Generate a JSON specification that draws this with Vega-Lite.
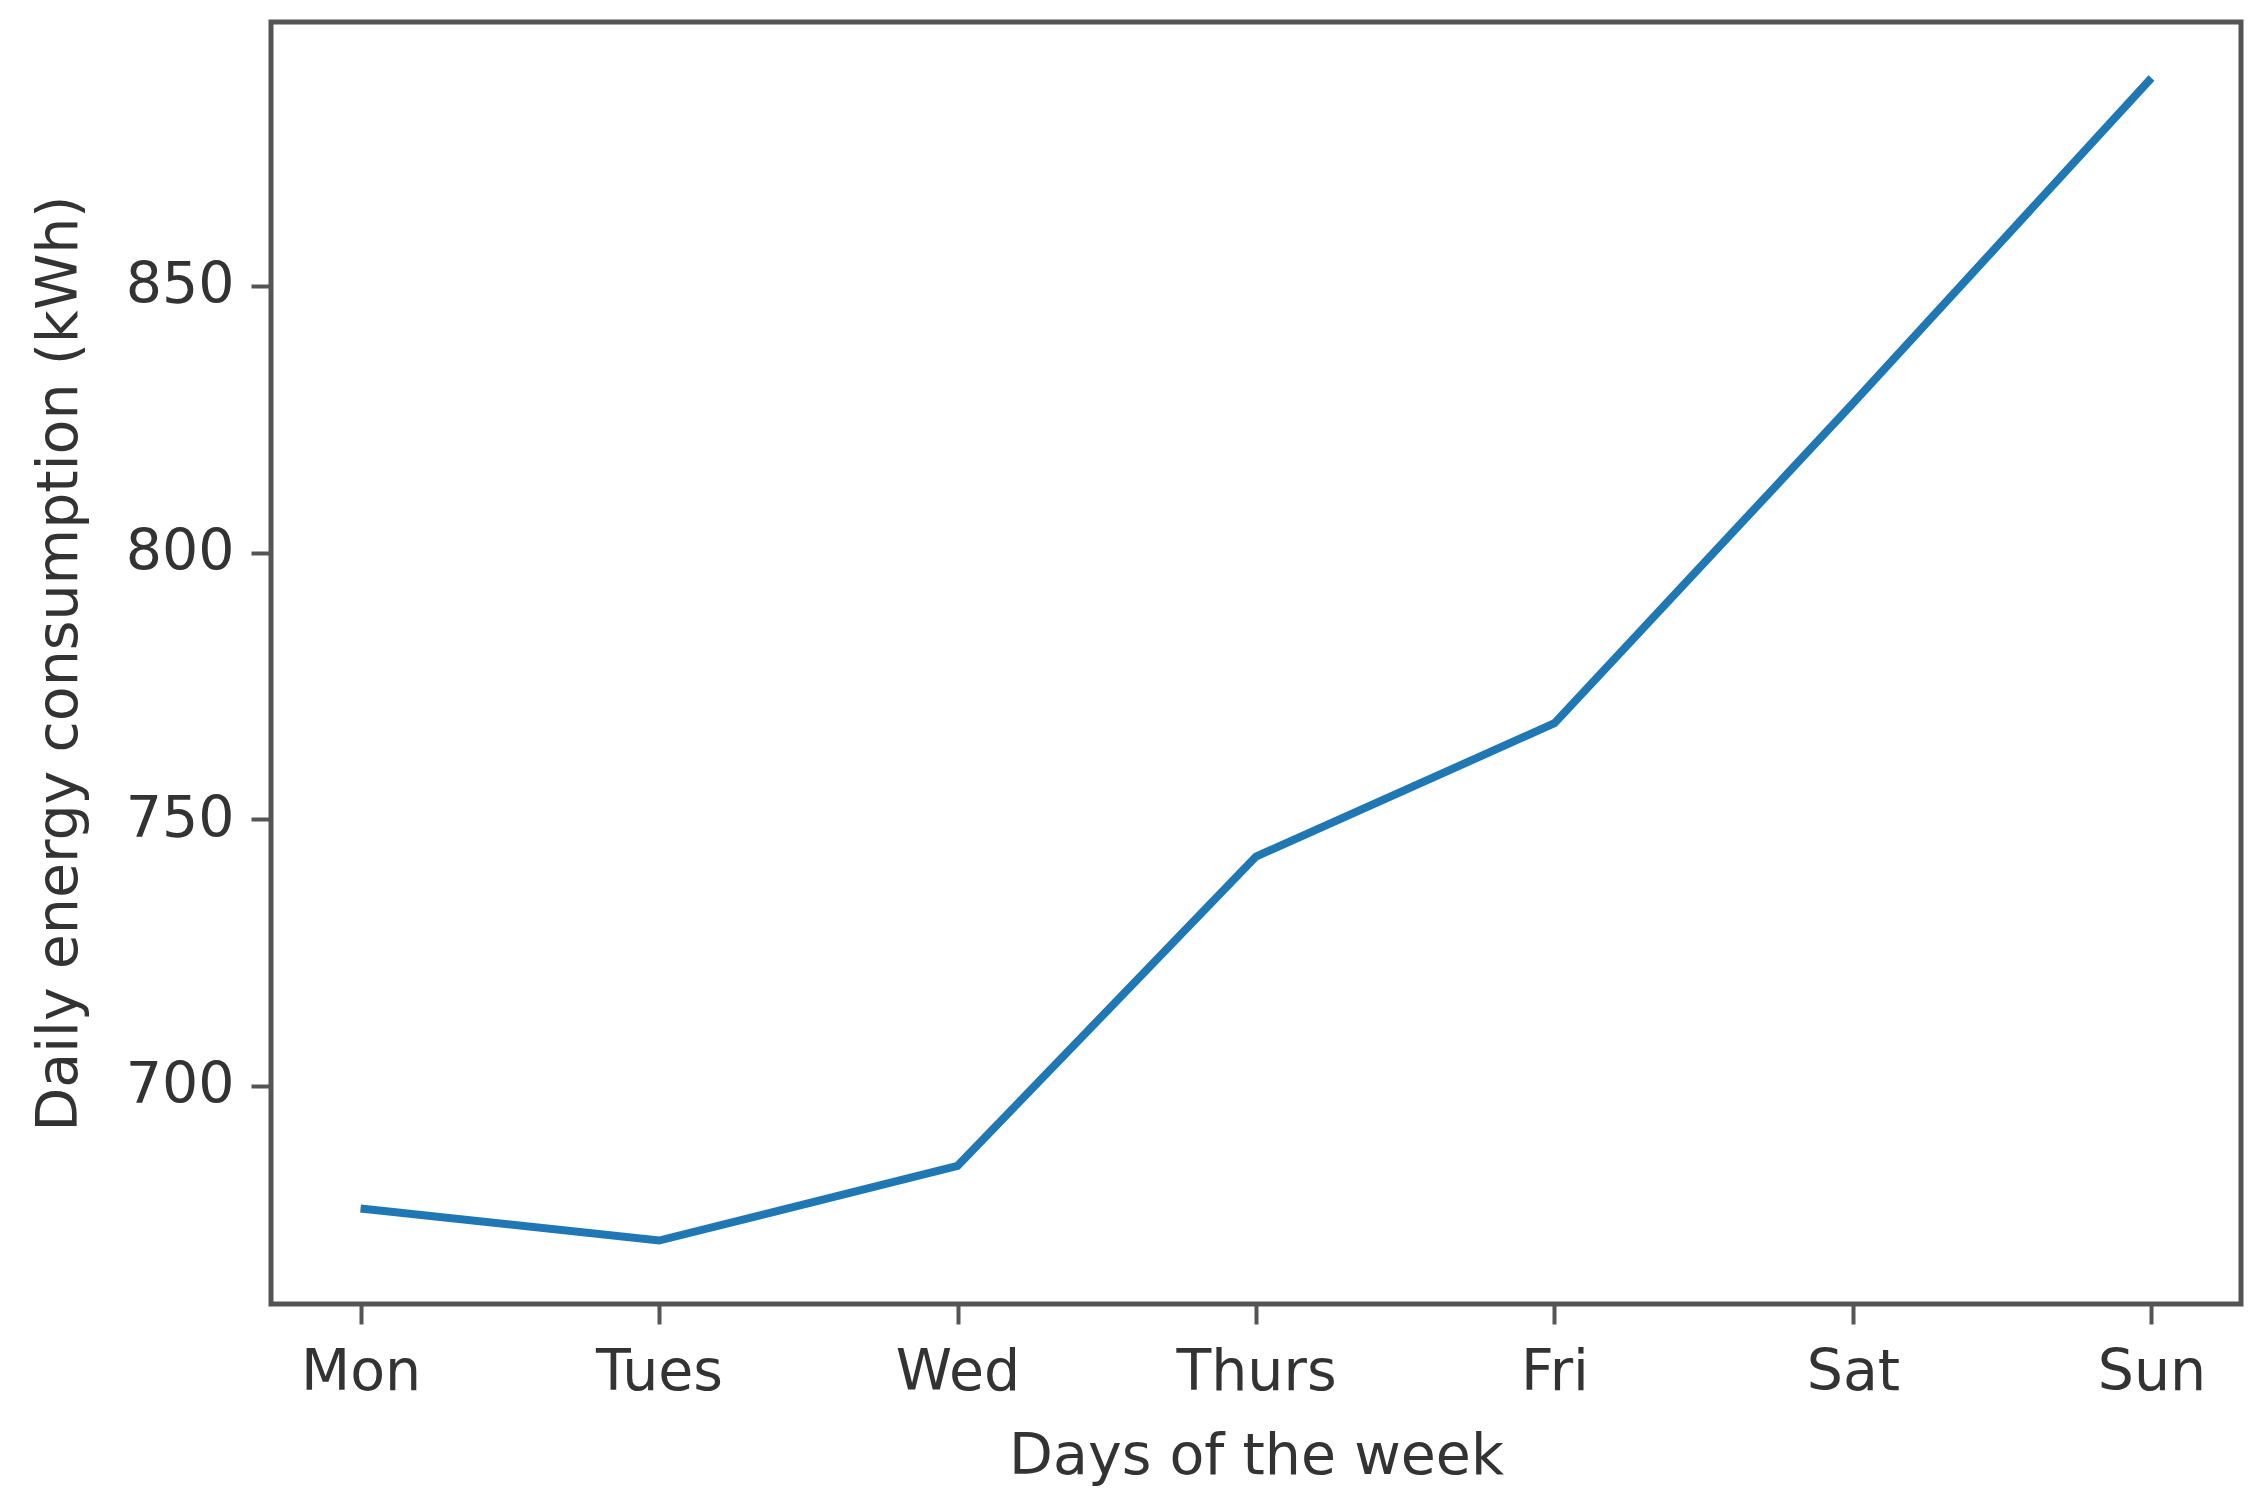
{
  "$schema": "https://vega.github.io/schema/vega-lite/v6.json",
  "autosize": "none",
  "width": 1970,
  "height": 1282,
  "padding": {"left": 271, "top": 22, "right": 23, "bottom": 200},
  "background": "white",
  "data": {
    "values": [
      {"day": "Mon", "kwh": 677},
      {"day": "Tues", "kwh": 671},
      {"day": "Wed", "kwh": 685},
      {"day": "Thurs", "kwh": 743},
      {"day": "Fri", "kwh": 768},
      {"day": "Sat", "kwh": 828},
      {"day": "Sun", "kwh": 889}
    ]
  },
  "mark": {"type": "line", "color": "#1f77b4", "strokeWidth": 8},
  "encoding": {
    "x": {
      "field": "day",
      "type": "ordinal",
      "sort": null,
      "scale": {"type": "point", "padding": 0.3},
      "axis": {
        "title": "Days of the week",
        "labelAngle": 0,
        "domain": false,
        "grid": false,
        "tickSize": 20,
        "tickWidth": 4,
        "tickColor": "#555555",
        "labelPadding": 20,
        "titlePadding": 28
      }
    },
    "y": {
      "field": "kwh",
      "type": "quantitative",
      "scale": {"domain": [659.1, 899.5], "nice": false, "zero": false},
      "axis": {
        "title": "Daily energy consumption (kWh)",
        "values": [700, 750, 800, 850],
        "domain": false,
        "grid": false,
        "tickSize": 20,
        "tickWidth": 4,
        "tickColor": "#555555",
        "labelPadding": 17,
        "titlePadding": 37
      }
    }
  },
  "config": {
    "view": {"stroke": "#555555", "strokeWidth": 5},
    "font": "DejaVu Sans",
    "axis": {
      "labelFont": "DejaVu Sans",
      "titleFont": "DejaVu Sans",
      "labelFontSize": 57,
      "titleFontSize": 57,
      "titleFontWeight": "normal",
      "labelColor": "#333333",
      "titleColor": "#333333"
    }
  }
}
